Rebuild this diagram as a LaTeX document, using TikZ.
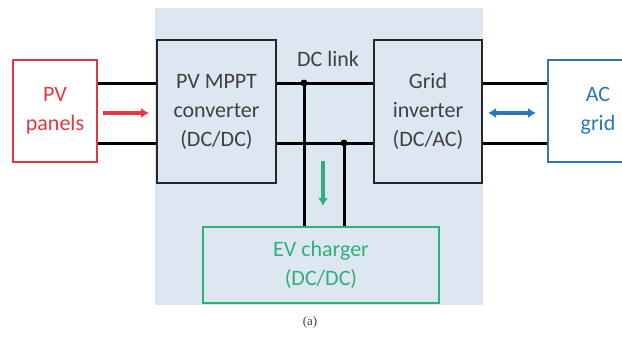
\documentclass[tikz,border=0pt]{standalone}
\usepackage{fontspec}
\setmainfont{Carlito}
\newfontfamily\capfont{Liberation Serif}
\usetikzlibrary{arrows.meta}
\definecolor{bgblue}{RGB}{221,231,242}
\definecolor{pvred}{RGB}{230,55,65}
\definecolor{acblue}{RGB}{46,117,182}
\definecolor{evgreen}{RGB}{48,176,120}
\definecolor{txtgray}{RGB}{64,64,64}
\tikzset{
  blk/.style={draw=black!85, line width=2pt, fill=bgblue, inner sep=0pt, align=center,
    text=txtgray, font=\fontsize{22}{29}\selectfont},
  wire/.style={line width=3pt, black},
  flow/.style={line width=3.2pt, -{Latex[length=8pt,width=10pt]}},
  dot/.style={circle, fill=black, inner sep=0pt, minimum size=7pt}
}
\begin{document}
\begin{tikzpicture}[x=1pt,y=-1pt]
\useasboundingbox (0,0) rectangle (622,340);
\begin{scope}
\clip (0,0) rectangle (622,340);
\fill[bgblue] (155,8) rectangle (483,305);
\node[blk, draw=pvred, fill=white, text=pvred, minimum width=84pt, minimum height=102pt] (pv) at (55,111) {PV\\panels};
\node[blk, minimum width=119pt, minimum height=143pt] (mppt) at (216.5,111.5) {PV MPPT\\converter\\(DC/DC)};
\node[blk, minimum width=108pt, minimum height=143pt] (inv) at (428,111.5) {Grid\\inverter\\(DC/AC)};
\node[blk, draw=acblue, fill=white, text=acblue, minimum width=100pt, minimum height=102pt] (ac) at (598,111) {AC\\grid};
\node[blk, draw=evgreen, text=evgreen, minimum width=236pt, minimum height=76pt] (ev) at (321,265) {EV charger\\(DC/DC)};
\end{scope}
\coordinate (t1) at (0,83);
\coordinate (t2) at (0,143);
\coordinate (d1) at (304,83);
\coordinate (d2) at (344,143);
\draw[wire] (pv.east |- t1) -- (mppt.west |- t1);
\draw[wire] (pv.east |- t2) -- (mppt.west |- t2);
\draw[wire] (mppt.east |- t1) -- (inv.west |- t1);
\draw[wire] (mppt.east |- t2) -- (inv.west |- t2);
\draw[wire] (inv.east |- t1) -- (ac.west |- t1);
\draw[wire] (inv.east |- t2) -- (ac.west |- t2);
\draw[wire] (d1) -- (d1 |- ev.north);
\draw[wire] (d2) -- (d2 |- ev.north);
\node[dot] (n1) at (d1) {};
\node[dot] (n2) at (d2) {};
\node[text=txtgray, font=\fontsize{22}{26}\selectfont] (dcl) at (328,59) {DC link};
\coordinate (ra) at (103,113);
\coordinate (rb) at (149,113);
\draw[flow, pvred] (ra) -- (rb);
\coordinate (ba) at (488,113);
\coordinate (bb) at (536,113);
\draw[flow, acblue, {Latex[length=8pt,width=10pt]}-{Latex[length=8pt,width=10pt]}] (ba) -- (bb);
\coordinate (ga) at (323,161);
\coordinate (gb) at (323,206);
\draw[flow, evgreen] (ga) -- (gb);
\node[font=\capfont\fontsize{13}{15}\selectfont, text=txtgray] (cap) at (310,322) {(a)};
\end{tikzpicture}
\end{document}
